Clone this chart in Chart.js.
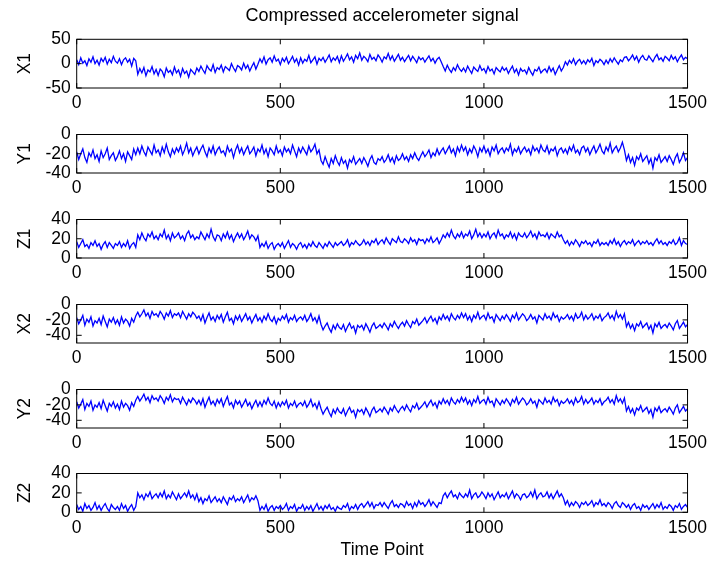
<!DOCTYPE html>
<html>
<head>
<meta charset="utf-8">
<script src="https://cdn.jsdelivr.net/npm/chart.js@4.4.1/dist/chart.umd.min.js"></script>
<style>
  body { margin: 0; background: #fff; }
  #fig { position: relative; width: 712px; height: 563px; overflow: hidden; background: #fff; }
  #fig canvas { position: absolute; left: 0; }
</style>
</head>
<body>
<div id="fig"></div>
<script>
const timePoints = Array.from({ length: 301 }, (_, i) => i * 5);
const xTicks = [0, 500, 1000, 1500];
const names = ['X1', 'Y1', 'Z1', 'X2', 'Y2', 'Z2'];

const x1 = [
  8, -2, 12, 1, 6, -4, 10, 3, 14, 0,
  7, -3, 11, 4, 13, -1, 9, 2, 15, 5,
  1, 10, -2, 8, 12, 3, 9, -5, 11, 6,
  -22, -10, -19, -8, -25, -13, -17, -6, -21, -12,
  -24, -11, -16, -27, -9, -18, -14, -23, -7, -19,
  -13, -26, -10, -20, -15, -28, -12, -17, -22, -9,
  -16, -5, -13, -20, -4, -11, -15, -2, -18, -8,
  -12, -3, -17, -6, -10, -14, 0, -9, -16, -4,
  -7, -13, 1, -10, -3, -15, -6, 2, -11, -1,
  10, 2, 14, -1, 8, 12, 3, 16, 5, 9,
  -2, 11, 4, 13, 0, 7, 15, 3, 10, -3,
  12, 1, 9, 5, 17, 2, 8, 14, -1, 11,
  6, 13, 3, 10, 18, 4, 12, 7, 15, 2,
  16, 5, 12, 20, 8, 14, 3, 17, 10, 22,
  7, 15, 11, 4, 19, 9, 13, 6, 18, 12,
  3, 14, 10, 21, 8, 16, 5, 12, 19, 7,
  13, 4, 11, 17, 6, 15, 9, 2, 14, 8,
  12, 3, 10, 16, 5, 11, 1, 9, 13, 4,
  -6, -15, -3, -12, -18, -8, -14, -2, -11, -16,
  -9, -17, -5, -13, -20, -7, -12, -16, -4, -14,
  -10, -19, -6, -15, -11, -21, -8, -13, -17, -7,
  -14, -9, -20, -12, -5, -18, -11, -23, -10, -16,
  -13, -21, -8, -17, -24, -12, -15, -7, -19, -14,
  -11, -18, -6, -16, -9, -22, -13, -4, -15, -8,
  4, -3, 7, 1, 10, -2, 5, 9, 0, 6,
  -1, 8, 3, 11, -4, 6, 2, 9, 5, -2,
  7, 0, 10, 3, 12, 5, -1, 8, 4, 13,
  14, 6, 11, 18, 8, 15, 3, 12, 17, 9,
  7, 16, 10, 4, 13, 19, 8, 12, 5, 15,
  11, 6, 17, 9, 14, 4, 12, 18, 8, 13,
  10];

const y1 = [
  -18, -26, -20, -15, -24, -29, -19, -23, -16, -25,
  -21, -28, -17, -24, -20, -14, -26, -22, -19, -27,
  -23, -17, -25, -20, -28, -18, -22, -26, -15, -21,
  -14, -20, -12, -18, -22, -13, -17, -21, -11, -19,
  -16, -22, -13, -19, -10, -18, -23, -15, -20, -14,
  -18, -12, -21, -16, -9, -19, -14, -22, -17, -13,
  -20, -15, -11, -18, -23, -14, -19, -12, -21, -16,
  -13, -19, -17, -22, -12, -18, -15, -24, -16, -11,
  -19, -14, -21, -16, -12, -20, -17, -13, -22, -15,
  -18, -11, -20, -15, -23, -14, -17, -21, -12, -19,
  -16, -22, -13, -18, -15, -20, -11, -17, -23, -14,
  -19, -13, -17, -21, -12, -18, -15, -10, -20, -16,
  -27, -31, -23, -29, -34, -25, -30, -22, -28, -32,
  -24, -30, -27, -35, -26, -29, -23, -31, -28, -25,
  -30, -24, -28, -33, -26, -22, -29, -31, -25, -27,
  -23, -29, -26, -21, -28, -24, -30, -22, -27, -25,
  -20, -26, -23, -28, -21, -25, -19, -24, -27, -22,
  -18, -23, -20, -16, -24, -19, -22, -15, -21, -17,
  -14, -20, -16, -12, -19, -15, -22, -13, -18, -11,
  -17, -13, -21, -15, -19, -12, -16, -23, -14, -18,
  -12, -19, -15, -22, -13, -17, -11, -20, -16, -14,
  -19, -14, -17, -10, -21, -15, -18, -13, -20, -16,
  -13, -18, -15, -21, -12, -17, -14, -19, -11, -16,
  -18, -12, -20, -15, -17, -13, -22, -16, -14, -19,
  -15, -20, -13, -17, -11, -19, -16, -21, -14, -12,
  -18, -14, -21, -16, -12, -19, -15, -10, -17, -20,
  -13, -17, -9, -19, -15, -12, -18, -14, -8, -16,
  -27, -21, -29, -24, -32, -23, -26, -20, -28, -25,
  -22, -30, -25, -35, -24, -27, -21, -29, -26, -23,
  -28, -22, -26, -31, -24, -20, -29, -25, -19, -27,
  -24];

const z1 = [
  17, 11, 15, 19, 12, 14, 10, 16, 13, 18,
  12, 15, 9, 14, 17, 11, 16, 13, 10, 15,
  13, 17, 11, 15, 12, 18, 10, 14, 16, 11,
  24, 19, 26, 21, 18, 25, 22, 27, 20, 23,
  19, 25, 22, 29, 20, 24, 18, 26, 21, 23,
  26, 20, 23, 18, 25, 28, 21, 24, 19, 22,
  20, 27, 23, 19, 25, 21, 30, 22, 18, 24,
  23, 18, 25, 21, 27, 20, 24, 17, 22, 26,
  21, 25, 19, 23, 28, 20, 24, 22, 18, 23,
  11, 15, 12, 17, 10, 14, 16, 9, 13, 15,
  12, 16, 10, 14, 18, 11, 15, 13, 9, 14,
  16, 11, 14, 10, 15, 12, 17, 13, 11, 16,
  13, 10, 15, 12, 17, 14, 11, 16, 13, 15,
  17, 13, 15, 19, 12, 16, 14, 18, 15, 13,
  15, 19, 14, 17, 13, 18, 16, 20, 14, 17,
  19, 15, 21, 17, 14, 20, 18, 16, 22, 17,
  16, 20, 18, 15, 21, 17, 19, 14, 20, 18,
  19, 15, 20, 17, 22, 16, 18, 21, 15, 19,
  24, 21, 26, 22, 29, 23, 20, 25, 22, 27,
  21, 25, 23, 28, 20, 24, 30, 22, 26, 21,
  25, 22, 27, 20, 24, 26, 21, 29, 23, 25,
  20, 24, 22, 27, 21, 25, 19, 26, 23, 22,
  26, 21, 24, 28, 22, 25, 20, 27, 23, 24,
  22, 26, 20, 25, 23, 21, 27, 22, 24, 19,
  15, 18, 13, 17, 14, 19, 16, 12, 17, 15,
  18, 14, 16, 12, 17, 15, 19, 13, 16, 14,
  16, 13, 18, 15, 20, 14, 17, 12, 16, 18,
  14, 17, 15, 19, 13, 16, 18, 14, 17, 15,
  18, 14, 16, 13, 17, 20, 15, 18, 14, 16,
  13, 17, 15, 19, 14, 16, 21, 13, 18, 15,
  14];

const x2 = [
  -17, -25, -20, -14, -27, -19, -23, -16, -28, -21,
  -24, -18, -26, -15, -22, -29, -19, -23, -17, -25,
  -20, -27, -16, -24, -19, -22, -28, -18, -23, -15,
  -10, -16, -12, -7, -15, -11, -18, -9, -14, -12,
  -16, -9, -13, -19, -11, -15, -8, -17, -12, -14,
  -11, -17, -9, -14, -19, -12, -16, -10, -13, -18,
  -15, -21, -13, -24, -17, -11, -20, -16, -22, -14,
  -19, -13, -23, -16, -10, -21, -18, -25, -15, -20,
  -14, -22, -17, -12, -20, -16, -24, -18, -13, -21,
  -17, -23, -15, -20, -12, -19, -22, -16, -25, -18,
  -21, -15, -19, -13, -23, -17, -20, -14, -22, -18,
  -16, -20, -14, -22, -18, -12, -21, -17, -24, -15,
  -26, -33, -28, -24, -31, -36, -27, -32, -25, -30,
  -32, -26, -35, -29, -24, -31, -28, -37, -27, -30,
  -27, -33, -25, -30, -36, -28, -24, -31, -29, -26,
  -30, -24, -28, -33, -25, -29, -22, -27, -31, -26,
  -23, -28, -21, -26, -30, -22, -25, -19, -27, -24,
  -21, -17, -24, -19, -15, -22, -18, -25, -16, -20,
  -13, -19, -15, -21, -12, -17, -20, -14, -18, -11,
  -17, -12, -20, -15, -22, -14, -18, -10, -19, -16,
  -14, -20, -11, -18, -16, -23, -13, -17, -21, -15,
  -19, -13, -17, -22, -14, -18, -11, -20, -16, -12,
  -15, -21, -18, -13, -19, -16, -24, -14, -17, -20,
  -12, -18, -15, -20, -11, -17, -14, -22, -16, -19,
  -17, -13, -19, -15, -21, -12, -18, -16, -10, -20,
  -14, -19, -16, -12, -20, -15, -18, -13, -21, -17,
  -15, -11, -18, -14, -20, -9, -17, -13, -19, -12,
  -29, -23, -31, -26, -34, -25, -28, -22, -30, -27,
  -24, -32, -27, -37, -25, -29, -23, -31, -28, -26,
  -30, -24, -28, -33, -25, -21, -31, -27, -23, -29,
  -26];

const y2 = [
  -16, -24, -19, -13, -26, -18, -22, -15, -27, -20,
  -23, -17, -25, -14, -21, -28, -18, -22, -16, -24,
  -19, -26, -15, -23, -18, -21, -27, -17, -22, -14,
  -9, -15, -11, -6, -14, -10, -17, -8, -13, -11,
  -15, -8, -12, -18, -10, -14, -7, -16, -11, -13,
  -12, -18, -10, -15, -20, -13, -17, -11, -14, -19,
  -14, -20, -12, -23, -16, -10, -19, -15, -21, -13,
  -18, -12, -22, -15, -9, -20, -17, -24, -14, -19,
  -15, -23, -18, -13, -21, -17, -25, -19, -14, -22,
  -16, -22, -14, -19, -11, -18, -21, -15, -24, -17,
  -22, -16, -20, -14, -24, -18, -21, -15, -23, -19,
  -17, -21, -15, -23, -19, -13, -22, -18, -25, -16,
  -25, -32, -27, -23, -30, -35, -26, -31, -24, -29,
  -31, -25, -34, -28, -23, -30, -27, -36, -26, -29,
  -26, -32, -24, -29, -35, -27, -23, -30, -28, -25,
  -29, -23, -27, -32, -24, -28, -21, -26, -30, -25,
  -22, -27, -20, -25, -29, -21, -24, -18, -26, -23,
  -20, -16, -23, -18, -14, -21, -17, -24, -15, -19,
  -12, -18, -14, -20, -11, -16, -19, -13, -17, -10,
  -16, -11, -19, -14, -21, -13, -17, -9, -18, -15,
  -13, -19, -10, -17, -15, -22, -12, -16, -20, -14,
  -18, -12, -16, -21, -13, -17, -10, -19, -15, -11,
  -14, -20, -17, -12, -18, -15, -23, -13, -16, -19,
  -11, -17, -14, -19, -10, -16, -13, -21, -15, -18,
  -16, -12, -18, -14, -20, -11, -17, -15, -9, -19,
  -13, -18, -15, -11, -19, -14, -17, -12, -20, -16,
  -14, -10, -17, -13, -19, -8, -16, -12, -18, -11,
  -28, -22, -30, -25, -33, -24, -27, -21, -29, -26,
  -23, -31, -26, -36, -24, -28, -22, -30, -27, -25,
  -29, -23, -27, -32, -24, -20, -30, -26, -22, -28,
  -25];

const z2 = [
  8, 3, 6, 1, 9, 4, 7, 2, 5, 10,
  3, 7, 2, 6, 9, 4, 1, 8, 5, 3,
  6, 2, 9, 4, 7, 1, 5, 8, 2, 6,
  20, 15, 18, 13, 19, 16, 21, 14, 17, 19,
  15, 20, 16, 22, 14, 18, 15, 21, 17, 13,
  19, 14, 17, 20, 16, 22, 15, 18, 13, 19,
  11, 15, 9, 14, 12, 17, 10, 13, 16, 11,
  14, 10, 16, 12, 8, 15, 13, 17, 11, 14,
  12, 16, 10, 14, 18, 11, 15, 13, 17, 12,
  2, 6, 3, 8, 1, 5, 7, 2, 6, 4,
  7, 3, 5, 9, 2, 6, 4, 8, 1, 5,
  4, 8, 2, 6, 3, 7, 1, 5, 9, 3,
  6, 2, 7, 4, 8, 3, 5, 1, 6, 4,
  3, 7, 5, 9, 2, 6, 4, 8, 3, 7,
  9, 5, 8, 11, 6, 10, 4, 8, 7, 10,
  6, 10, 7, 4, 9, 12, 6, 8, 5, 9,
  8, 5, 11, 7, 9, 4, 10, 6, 12, 8,
  10, 6, 9, 13, 7, 11, 8, 5, 10, 9,
  17, 20, 15, 19, 22, 16, 18, 14, 20, 17,
  15, 19, 16, 23, 14, 18, 20, 15, 17, 21,
  18, 14, 20, 16, 19, 13, 17, 21, 15, 18,
  16, 20, 14, 18, 22, 15, 19, 17, 13, 18,
  19, 15, 17, 21, 16, 23, 14, 18, 20, 16,
  17, 21, 15, 19, 14, 18, 22, 16, 19, 15,
  8, 12, 6, 10, 7, 11, 9, 5, 10, 8,
  11, 7, 9, 12, 6, 10, 8, 13, 7, 9,
  6, 10, 8, 4, 9, 11, 7, 5, 10, 8,
  5, 8, 3, 7, 9, 4, 6, 2, 8, 5,
  7, 3, 6, 9, 4, 8, 5, 10, 3, 6,
  4, 8, 6, 2, 7, 5, 9, 3, 6, 8,
  5];

const seriesList = [x1, y1, z1, x2, y2, z2];
const yLimits = [[-50, 50], [-40, 0], [0, 40], [-50, 0], [-50, 0], [0, 40]];
const yTicks = [[-50, 0, 50], [-40, -20, 0], [0, 20, 40], [-40, -20, 0], [-40, -20, 0], [0, 20, 40]];

const titleText = 'Compressed accelerometer signal';
const xTitleText = 'Time Point';

// figure layout (pixels)
const W = 712;
const plotLeft = 76.7, plotRight = 690.7;
const firstTop = 39.3, rowStep = 84.8, plotH = 49;
const padTop = 6, axisH = 30;
const fontFam = '"Liberation Sans", Arial, Helvetica, sans-serif';

// MATLAB-like box with inward ticks
const boxTicks = {
  id: 'boxTicks',
  afterDatasetsDraw(chart) {
    const { ctx, chartArea: a, scales: { x, y } } = chart;
    ctx.save();
    ctx.strokeStyle = '#000';
    ctx.lineWidth = 1;
    ctx.strokeRect(a.left, a.top, a.right - a.left, a.bottom - a.top);
    ctx.beginPath();
    x.ticks.forEach(t => {
      const px = x.getPixelForValue(t.value);
      ctx.moveTo(px, a.top); ctx.lineTo(px, a.top + 5);
      ctx.moveTo(px, a.bottom); ctx.lineTo(px, a.bottom - 5);
    });
    y.ticks.forEach(t => {
      const py = y.getPixelForValue(t.value);
      ctx.moveTo(a.left, py); ctx.lineTo(a.left + 5, py);
      ctx.moveTo(a.right, py); ctx.lineTo(a.right - 5, py);
    });
    ctx.stroke();
    ctx.restore();
  }
};

// figure title, centred over the plot box
const figTitle = {
  id: 'figTitle',
  afterDraw(chart, args, opts) {
    if (!opts.text) return;
    const { ctx, chartArea: a } = chart;
    ctx.save();
    ctx.fillStyle = '#000';
    ctx.font = '18px ' + fontFam;
    ctx.textAlign = 'center';
    ctx.textBaseline = 'middle';
    ctx.fillText(opts.text, (a.left + a.right) / 2, 16);
    ctx.restore();
  }
};

const fig = document.getElementById('fig');

names.forEach((name, i) => {
  const isFirst = i === 0, isLast = i === names.length - 1;
  const top = firstTop + rowStep * i;
  const cTop = isFirst ? 0 : top - padTop;
  const cBottom = isLast ? 561 : top + plotH + axisH;
  const cH = cBottom - cTop;
  const xH = cBottom - (top + plotH);

  const canvas = document.createElement('canvas');
  canvas.width = W;
  canvas.height = Math.round(cH);
  canvas.style.top = cTop + 'px';
  fig.appendChild(canvas);

  new Chart(canvas.getContext('2d'), {
    type: 'line',
    data: {
      datasets: [{
        label: name,
        data: timePoints.map((t, k) => ({ x: t, y: seriesList[i][k] })),
        borderColor: '#0000ff',
        borderWidth: 1.3,
        pointRadius: 0,
        tension: 0,
        fill: false
      }]
    },
    options: {
      responsive: false,
      animation: false,
      events: [],
      layout: { padding: { top: isFirst ? firstTop : padTop, right: W - plotRight, left: 0, bottom: 0 } },
      plugins: {
        legend: { display: false },
        tooltip: { enabled: false },
        title: { display: false },
        figTitle: { text: isFirst ? titleText : '' }
      },
      scales: {
        x: {
          type: 'linear',
          min: 0,
          max: 1500,
          afterBuildTicks: s => { s.ticks = xTicks.map(v => ({ value: v })); },
          afterFit: s => { s.height = xH; },
          grid: { display: false, drawTicks: false },
          border: { display: false },
          ticks: {
            autoSkip: false, maxRotation: 0, padding: 5, color: '#000',
            font: { family: fontFam, size: 17.5 },
            callback: v => String(v)
          },
          title: {
            display: isLast,
            text: xTitleText,
            color: '#000',
            font: { family: fontFam, size: 17.5 },
            padding: { top: 0, bottom: 0 }
          }
        },
        y: {
          min: yLimits[i][0],
          max: yLimits[i][1],
          afterBuildTicks: s => { s.ticks = yTicks[i].map(v => ({ value: v })); },
          afterFit: s => { s.width = plotLeft; },
          grid: { display: false, drawTicks: false },
          border: { display: false },
          ticks: {
            autoSkip: false, padding: 6, color: '#000',
            font: { family: fontFam, size: 17.5 },
            callback: v => String(v)
          },
          title: {
            display: true,
            text: name,
            color: '#000',
            font: { family: fontFam, size: 17.5 },
            padding: { top: 14.5, bottom: 0 }
          }
        }
      }
    },
    plugins: [boxTicks, figTitle]
  });
});
</script>
</body>
</html>
